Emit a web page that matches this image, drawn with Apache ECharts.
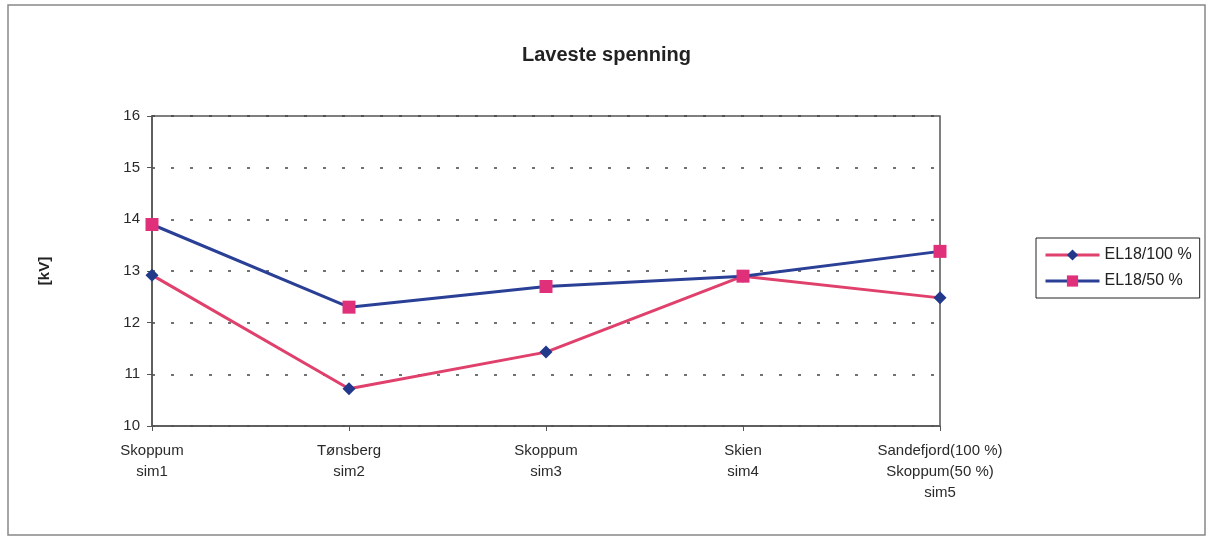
<!DOCTYPE html>
<html>
<head>
<meta charset="utf-8">
<script src="https://cdn.jsdelivr.net/npm/echarts@6/dist/echarts.min.js"></script>
<style>
  html, body { margin: 0; padding: 0; background: #fff; }
  #chart { width: 1213px; height: 541px; }
</style>
</head>
<body>
<div id="chart"></div>
<script>
  const categories = ['Skoppum\nsim1', 'Tønsberg\nsim2', 'Skoppum\nsim3', 'Skien\nsim4', 'Sandefjord(100 %)\nSkoppum(50 %)\nsim5'];
  const el18Full = [12.92, 10.72, 11.43, 12.9, 12.48];
  const el18Half = [13.9, 12.3, 12.7, 12.9, 13.38];

  const chart = echarts.init(document.getElementById('chart'));
  const font = 'Liberation Sans, Arial, sans-serif';

  chart.setOption({
    animation: false,
    backgroundColor: '#fff',
    graphic: [{
      type: 'rect',
      shape: { x: 8, y: 5, width: 1197, height: 530 },
      style: { fill: 'none', stroke: '#888', lineWidth: 1.5 },
      silent: true
    }],
    title: {
      text: 'Laveste spenning',
      left: 'center',
      top: 40,
      textStyle: { fontFamily: font, fontSize: 20, fontWeight: 'bold', color: '#222' }
    },
    legend: {
      orient: 'vertical',
      left: 1036,
      top: 238,
      padding: [9, 8, 9, 8],
      itemGap: 10,
      itemWidth: 54,
      itemHeight: 14,
      borderColor: '#222',
      borderWidth: 1,
      lineStyle: { width: 3 },
      textStyle: { fontFamily: font, fontSize: 16, color: '#222' },
      data: ['EL18/100 %', 'EL18/50 %']
    },
    grid: {
      left: 152,
      right: 273,
      top: 116,
      bottom: 115,
      show: true,
      borderColor: '#555',
      borderWidth: 1.5
    },
    xAxis: {
      type: 'category',
      data: categories,
      boundaryGap: false,
      axisLine: { lineStyle: { color: '#555', width: 1.5 } },
      axisTick: { show: true, alignWithLabel: true, length: 5, inside: false, lineStyle: { color: '#555' } },
      axisLabel: { fontFamily: font, fontSize: 15, color: '#2a2a2a', margin: 14, lineHeight: 21, interval: 0 },
      splitLine: { show: false }
    },
    yAxis: {
      type: 'value',
      min: 10,
      max: 16,
      interval: 1,
      name: '[kV]',
      nameLocation: 'middle',
      nameGap: 100,
      nameTextStyle: { fontFamily: font, fontSize: 15, fontWeight: 'bold', color: '#222' },
      axisLine: { show: true, lineStyle: { color: '#555', width: 1.5 } },
      axisTick: { show: true, length: 5, lineStyle: { color: '#555' } },
      axisLabel: { fontFamily: font, fontSize: 15, color: '#2a2a2a', margin: 12 },
      splitLine: { show: true, lineStyle: { color: '#444', type: [3, 16], width: 1.5 } }
    },
    series: [
      {
        name: 'EL18/100 %',
        type: 'line',
        data: el18Full,
        symbol: 'diamond',
        symbolSize: 13,
        lineStyle: { color: '#e0406c', width: 3 },
        itemStyle: { color: '#22388a' }
      },
      {
        name: 'EL18/50 %',
        type: 'line',
        data: el18Half,
        symbol: 'rect',
        symbolSize: 13,
        lineStyle: { color: '#2a3f96', width: 3 },
        itemStyle: { color: '#e0307a' }
      }
    ]
  });
</script>
</body>
</html>
